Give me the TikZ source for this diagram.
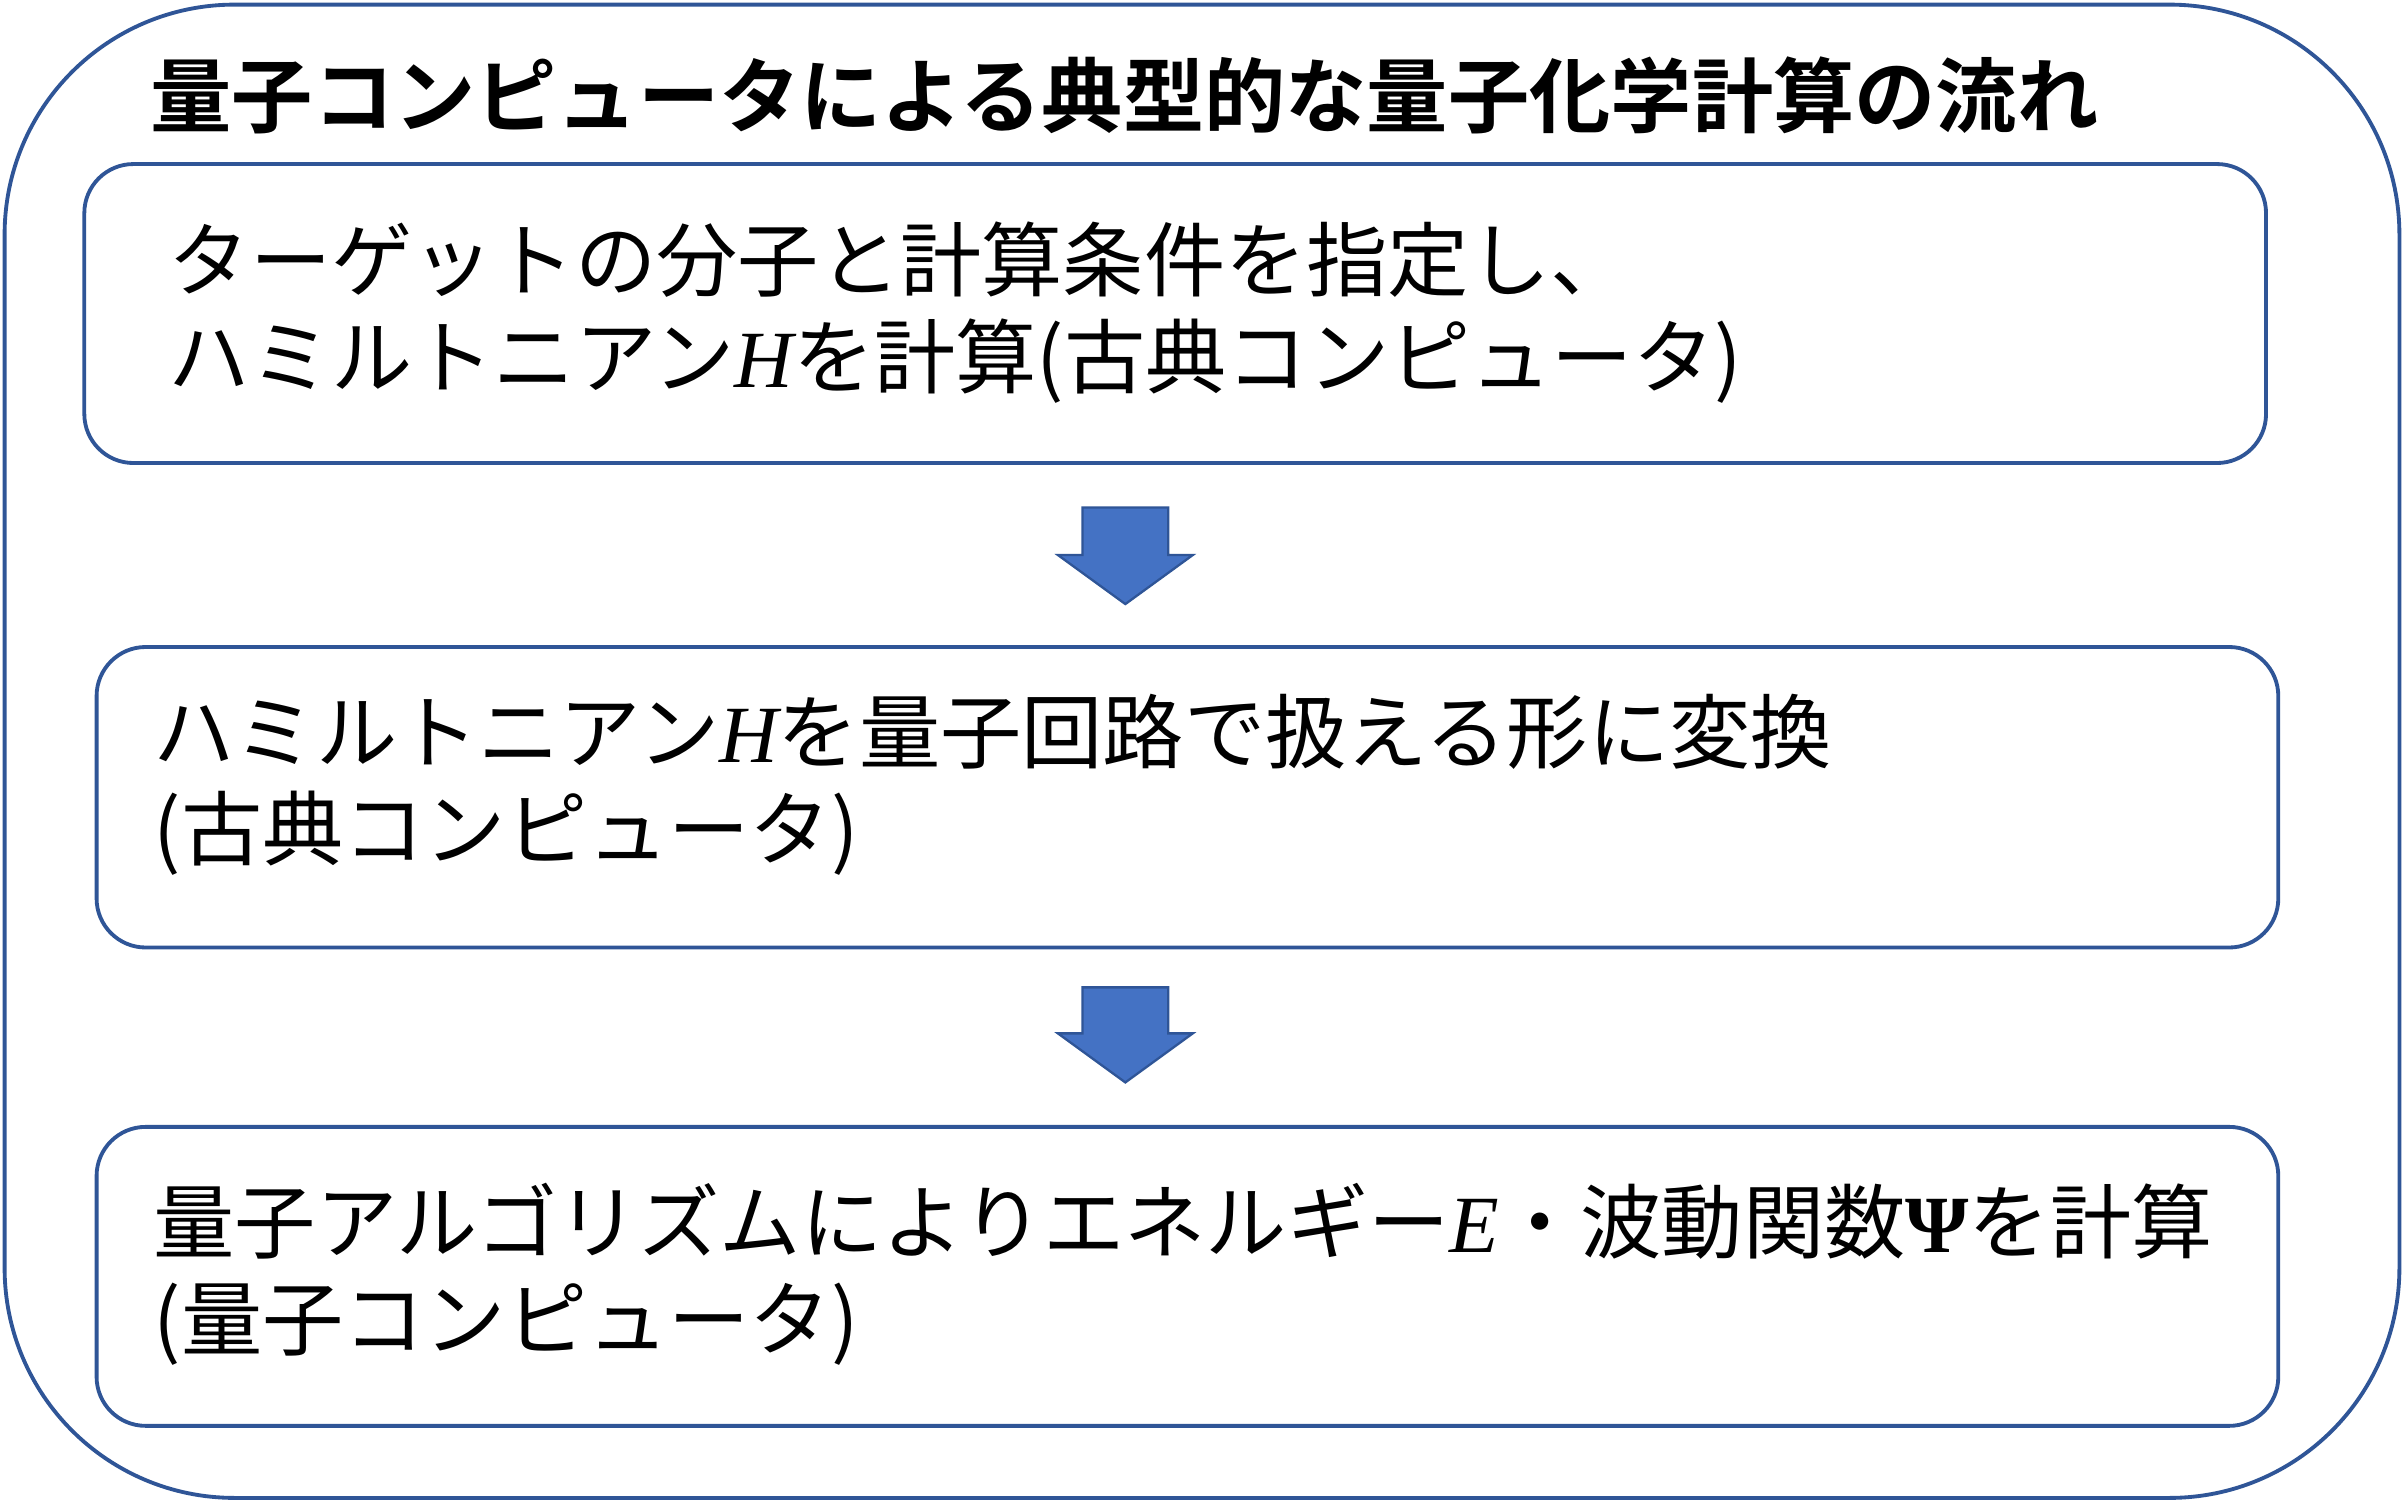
\documentclass[tikz,border=0pt]{standalone}
\usepackage{fontspec}
\newfontfamily\jp{Noto Sans CJK JP}[BoldFont={Noto Sans CJK JP Bold}]
\newfontfamily\sermi{Liberation Serif}
\newcommand{\mv}[1]{{\sermi\itshape #1}}
\definecolor{bordc}{HTML}{2F5597}
\definecolor{arrfill}{HTML}{4472C4}
\tikzset{
  stepbox/.style={draw=bordc,line width=2.5pt,rounded corners=32pt},
  txt/.style={anchor=west,align=left,inner sep=0pt,font=\jp\fontsize{53}{63}\selectfont},
  blockarrow/.style={fill=arrfill,draw=bordc,line width=1.5pt}
}
\begin{document}
\begin{tikzpicture}[x=1pt,y=-1pt]
\useasboundingbox (0,0) rectangle (1568,980);
\fill[white] (0,0) rectangle (1568,980);
\draw[draw=bordc,line width=2.5pt,rounded corners=150pt] (3,3) rectangle (1565,977);
\node[anchor=west,inner sep=0pt,font=\jp\bfseries\fontsize{53}{60}\selectfont] (title) at (98,62) {量子コンピュータによる典型的な量子化学計算の流れ};
\draw[stepbox] (55,107) rectangle (1478,302);
\node[txt] (t1) at (110,204) {ターゲットの分子と計算条件を指定し、\\ハミルトニアン\mv{H}を計算(古典コンピュータ)};
\draw[stepbox] (63,422) rectangle (1486,618);
\node[txt] (t2) at (100,512) {ハミルトニアン\mv{H}を量子回路で扱える形に変換\\(古典コンピュータ)};
\draw[stepbox] (63,735) rectangle (1486,930);
\node[txt] (t3) at (100,831) {量子アルゴリズムによりエネルギー\mv{E}・波動関数{\sermi\bfseries Ψ}を計算\\(量子コンピュータ)};
\draw[blockarrow] (706,331) -- (762,331) -- (762,362) -- (778,362) -- (734,394) -- (690,362) -- (706,362) -- cycle;
\draw[blockarrow] (706,644) -- (762,644) -- (762,674) -- (778,674) -- (734,706) -- (690,674) -- (706,674) -- cycle;
\end{tikzpicture}
\end{document}
